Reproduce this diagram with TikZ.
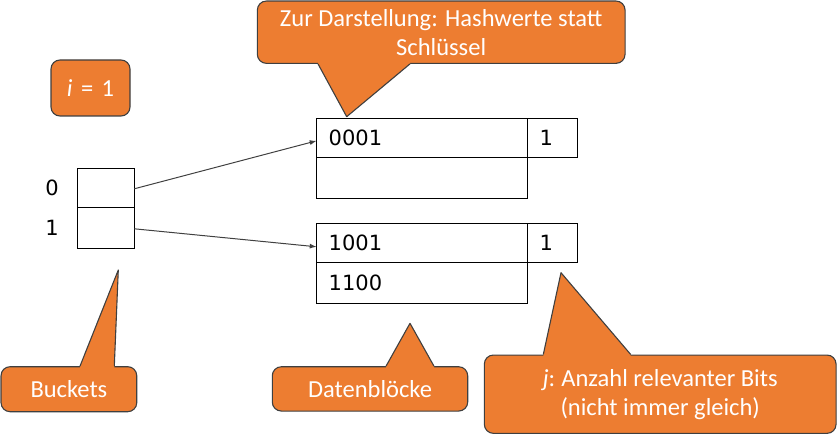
\documentclass[tikz,border=0pt]{standalone}
\usepackage{fontspec}
\setmainfont{Carlito}
\newfontfamily\bitfont{DejaVu Sans}
\usetikzlibrary{positioning,arrows.meta}

\definecolor{calloutorange}{HTML}{ED7D31}
\definecolor{calloutedge}{HTML}{3F3F3F}

% pointer of a callout: anchor, left x, right x, tip, shift into the box
\newcommand{\callptr}[5]{%
    \fill[calloutorange] (#2,0 |- #1) -- (#4) -- (#3,0 |- #1) -- ++(0,#5) -| (#2,0 |- #1) -- cycle;
    \draw[calloutedge, line width=1.1pt, line join=round] (#2,0 |- #1) -- (#4) -- (#3,0 |- #1);
}

\begin{document}
\begin{tikzpicture}[x=1pt, y=-1pt,
    callout/.style={rectangle, rounded corners=9pt, fill=calloutorange,
        draw=calloutedge, line width=1.1pt, text=white,
        font=\fontsize{24.5}{29}\selectfont, align=center, inner sep=0pt},
    bucket/.style={draw, line width=1.4pt, minimum width=57pt,
        inner sep=0pt, outer sep=0pt},
    cell/.style={draw, line width=1.4pt, inner xsep=12pt, inner ysep=0pt,
        outer sep=0pt, minimum height=39pt,
        font=\bitfont\fontsize{21}{25}\selectfont},
    keycell/.style={cell, text width=187pt, align=left},
    bitcell/.style={cell, text width=25.6pt, align=left},
    idx/.style={font=\bitfont\fontsize{21}{25}\selectfont},
    ptr/.style={line width=1pt, draw=black!75, -{Latex[length=7pt,width=5pt]}}
]
    \useasboundingbox (0,0) rectangle (837,435);

    % Buckets
    \node[bucket, minimum height=39pt, anchor=north west] (b0) at (77.3,168.3) {};
    \node[bucket, minimum height=41pt, below=0pt of b0] (b1) {};
    \node[idx] (n0) at (52,187.5) {0};
    \node[idx] (n1) at (52,228) {1};

    % Datenbloecke
    \node[keycell, anchor=north west] (k1) at (316.7,118.3) {0001};
    \node[bitcell, right=0pt of k1] (j1) {1};
    \node[keycell, minimum height=41pt, below=0pt of k1] (e1) {};

    \node[keycell, anchor=north west] (k2) at (316.7,223.3) {1001};
    \node[bitcell, right=0pt of k2] (j2) {1};
    \node[keycell, minimum height=41pt, below=0pt of k2] (e2) {1100};

    \draw[ptr] ([yshift=-1pt]b0.east) -- ([yshift=-3pt]k1.west);
    \draw[ptr] ([yshift=-1pt]b1.east) -- ([yshift=-4pt]k2.west);

    % Callouts
    \node[callout, minimum width=367.7pt, minimum height=62.3pt] (chash) at (441.2,32.2)
        {Zur Darstellung: Hashwerte statt\\Schlüssel};
    \callptr{chash.south}{318}{410}{346.7,116.7}{-2}

    \node[callout, minimum width=79pt, minimum height=56pt] (ci) at (90.5,88)
        {\textit{i}\hspace{0.12em} =\hspace{0.12em} 1};

    \node[callout, minimum width=135.7pt, minimum height=45pt] (cbuckets) at (68.9,389.2) {Buckets};
    \callptr{cbuckets.north}{80}{114.3}{118.3,270}{2}

    \node[callout, minimum width=195.4pt, minimum height=44.3pt] (cblocks) at (370,388.9) {Datenblöcke};
    \callptr{cblocks.north}{386}{434}{410,323.3}{2}

    \node[callout, minimum width=351.7pt, minimum height=78.3pt] (cbits) at (660.2,394.2)
        {\textit{j}:\hspace{-0.05em} Anzahl relevanter Bits\\(nicht immer gleich)};
    \callptr{cbits.north}{543.3}{630.7}{561,272.7}{2}
\end{tikzpicture}
\end{document}
